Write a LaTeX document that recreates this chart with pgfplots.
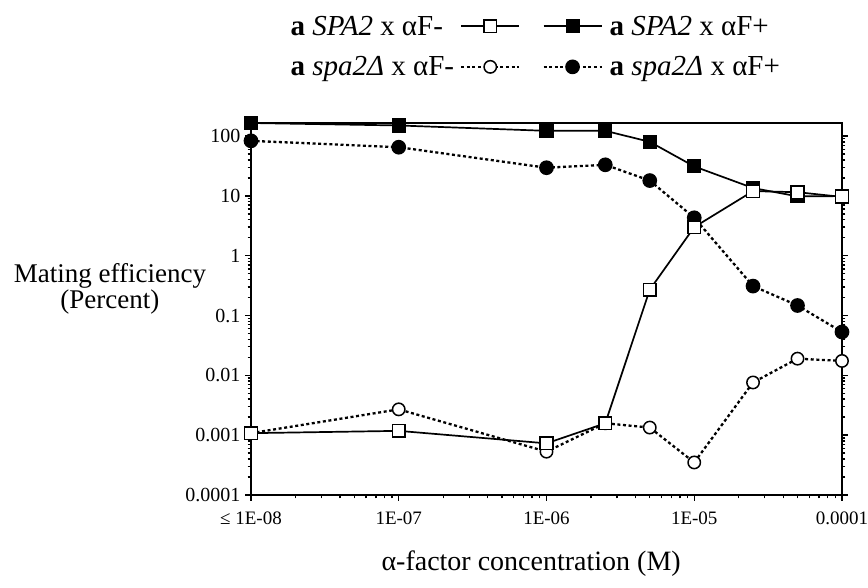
\documentclass[border=0pt]{standalone}
\usepackage{pgfplots}
\pgfplotsset{compat=1.18}
\usepackage{fontspec}
\setmainfont{Liberation Serif}
\pgfplotsset{
  sqopen/.style={black, solid, line width=1.7pt, mark=square*, mark size=6.3pt, mark options={fill=white, solid, line width=1.5pt}},
  sqfill/.style={black, solid, line width=1.7pt, mark=square*, mark size=6.3pt, mark options={fill=black, solid, line width=1.5pt}},
  ciopen/.style={black, line width=2.3pt, dash pattern=on 3pt off 2.6pt, mark=*, mark size=6.2pt, mark options={fill=white, solid, line width=1.5pt}},
  cifill/.style={black, line width=2.3pt, dash pattern=on 3pt off 2.6pt, mark=*, mark size=6.6pt, mark options={fill=black, solid, line width=1.5pt}},
}
\begin{document}
\begin{tikzpicture}[x=1pt,y=1pt]
\path[use as bounding box] (0,0) rectangle (868,588);
\begin{axis}[
  at={(251pt,93pt)}, anchor=south west,
  scale only axis, width=591pt, height=372pt,
  xmode=log, ymode=log,
  xmin=1e-8, xmax=1e-4, ymin=1e-4, ymax=165,
  xtick={1e-8,1e-7,1e-6,1e-5,1e-4},
  xticklabels={≤ 1E-08, 1E-07, 1E-06, 1E-05, 0.0001},
  ytick={1e-4,1e-3,1e-2,1e-1,1,10,100},
  yticklabels={0.0001,0.001,0.01,0.1,1,10,100},
  /pgf/number format/assume math mode=true,
  tick align=outside, xtick pos=left, ytick pos=both, yticklabel pos=left,
  major tick length=6pt, minor tick length=3.5pt,
  tick style={black, line width=1.4pt},
  axis line style={line width=1.9pt},
  xticklabel style={font=\fontsize{19}{19}\selectfont, yshift=-7pt},
  yticklabel style={font=\fontsize{20}{20}\selectfont, xshift=-1pt},
  clip=false,
  xlabel={α-factor concentration (M)},
  xlabel style={at={(axis description cs:0.474,-0.185)}, anchor=center, font=\fontsize{28}{28}\selectfont},
  ylabel={Mating efficiency\\(Percent)},
  ylabel style={rotate=-90, at={(axis description cs:-0.2386,0.554)}, anchor=center, align=center, font=\fontsize{27}{22}\selectfont},
  legend columns=3, legend plot pos=right, legend cell align=left,
  legend image code/.code={\draw[mark repeat=2,mark phase=2,#1] plot coordinates {(0pt,0pt)(29pt,0pt)(58pt,0pt)};},
  legend style={draw=none, fill=none, at={(0.481,1.2056)}, anchor=center,
    font=\fontsize{29}{29}\selectfont, row sep=20pt,
    nodes={inner sep=0pt},
    /tikz/column 1/.style={column sep=6pt},
    /tikz/column 2/.style={column sep=21pt},
    /tikz/column 3/.style={column sep=0pt},
    /tikz/column 4/.style={column sep=7pt}},
]
\addlegendimage{sqopen}
\addlegendentry{\textbf{a} \textit{SPA2} x αF-}
\addlegendimage{sqfill}
\addlegendentry{}
\addlegendimage{empty legend}
\addlegendentry{\textbf{a} \textit{SPA2} x αF+}
\addlegendimage{ciopen}
\addlegendentry{\textbf{a} \textit{spa2Δ} x αF-}
\addlegendimage{cifill}
\addlegendentry{}
\addlegendimage{empty legend}
\addlegendentry{\textbf{a} \textit{spa2Δ} x αF+}

% spa2Delta x alphaF+ (filled circles)
\addplot[cifill, forget plot] coordinates {
(1e-8,83) (1e-7,65) (1e-6,29.5) (2.5e-6,33) (5e-6,18) (1e-5,4.3) (2.5e-5,0.31) (5e-5,0.147) (1e-4,0.053)};
% spa2Delta x alphaF- (open circles)
\addplot[ciopen, forget plot] coordinates {
(1e-8,0.00108) (1e-7,0.0027) (1e-6,0.00053) (2.5e-6,0.00158) (5e-6,0.00134) (1e-5,0.00035) (2.5e-5,0.0076) (5e-5,0.019) (1e-4,0.0174)};
% SPA2 x alphaF+ (filled squares)
\addplot[sqfill, forget plot] coordinates {
(1e-8,165) (1e-7,150) (1e-6,122) (2.5e-6,122) (5e-6,80) (1e-5,31) (2.5e-5,13.5) (5e-5,9.8) (1e-4,9.9)};
% SPA2 x alphaF- (open squares)
\addplot[sqopen, forget plot] coordinates {
(1e-8,0.00108) (1e-7,0.00118) (1e-6,0.00073) (2.5e-6,0.00158) (5e-6,0.27) (1e-5,3.0) (2.5e-5,12) (5e-5,11.5) (1e-4,9.6)};
\end{axis}
\end{tikzpicture}
\end{document}
